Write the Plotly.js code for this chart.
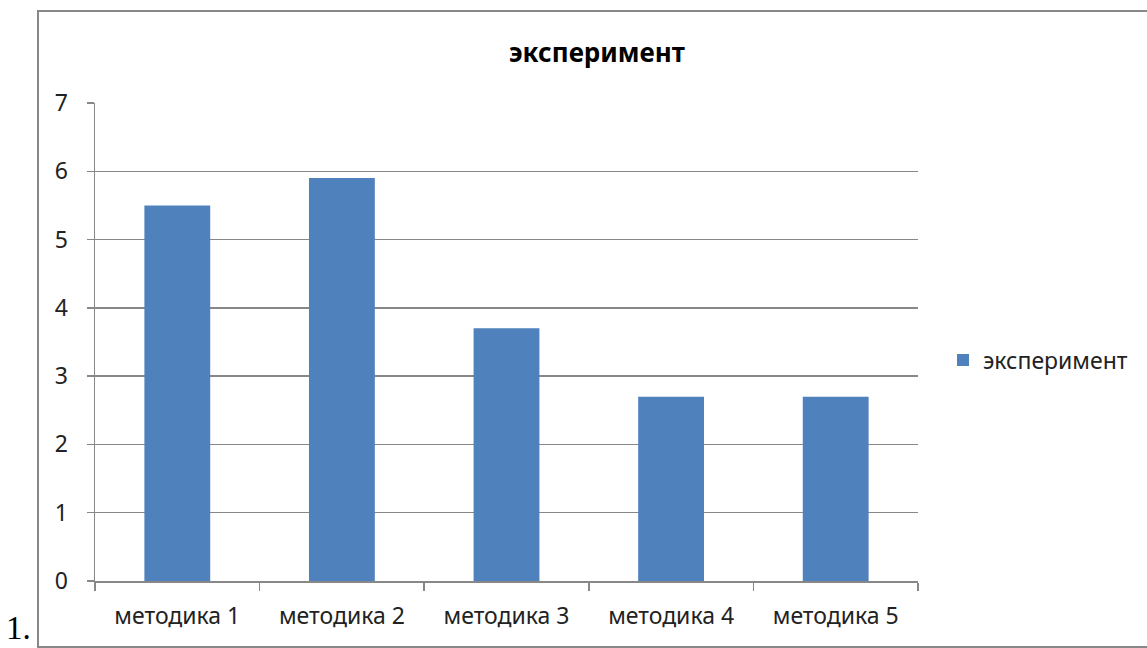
<!DOCTYPE html>
<html>
<head>
<meta charset="utf-8">
<script src="https://cdn.plot.ly/plotly-3.0.1.min.js"></script>
<style>html,body{margin:0;padding:0;background:#fff;}#chart{width:1147px;height:648px;}</style>
</head>
<body>
<div id="chart"></div>
<script>
const categories = ["методика 1", "методика 2", "методика 3", "методика 4", "методика 5"];
const values = [5.5, 5.9, 3.7, 2.7, 2.7];
const seriesName = "эксперимент";
const chartTitle = "эксперимент";
const yTicks = [0, 1, 2, 3, 4, 5, 6, 7];
const cornerLabel = "1.";

const font = "Noto Sans, Liberation Sans, sans-serif";
const trace = {
  type: "bar",
  x: categories,
  y: values,
  name: seriesName,
  marker: {color: "#4F81BD"},
  showlegend: true
};
const L = 95, R = 918, T = 103, B = 581;
const W = 1147, H = 648;
const px = v => (v - L) / (R - L);
const py = v => (B - v) / (B - T);
const layout = {
  width: W, height: H,
  margin: {l: L, r: W - R, t: T, b: H - B, pad: 0},
  paper_bgcolor: "#fff", plot_bgcolor: "#fff",
  bargap: 0.6,
  title: {text: "<b>" + chartTitle + "</b>", x: 597 / W, xref: "container", xanchor: "center",
          y: 1 - 53 / H, yref: "container", yanchor: "middle",
          font: {family: font, size: 26, color: "#000"}},
  xaxis: {
    type: "category", showgrid: false, showline: true, linecolor: "#888", linewidth: 1.5,
    ticks: "outside", tickson: "boundaries", ticklen: 8, tickcolor: "#888", tickwidth: 1.5,
    tickfont: {family: font, size: 23, color: "#222"}, ticklabelstandoff: 14,
    zeroline: false
  },
  yaxis: {
    range: [0, 7], tickvals: yTicks, showgrid: true, gridcolor: "#888", gridwidth: 1.5,
    showline: true, linecolor: "#888", linewidth: 1.5,
    ticks: "outside", ticklen: 7, tickcolor: "#888", tickwidth: 1.5,
    tickfont: {family: font, size: 23, color: "#222"}, ticklabelstandoff: 14,
    zeroline: false
  },
  legend: {x: px(943), xanchor: "left", y: py(360), yanchor: "middle",
           font: {family: font, size: 23, color: "#222"}, bgcolor: "rgba(0,0,0,0)"},
  shapes: [{type: "rect", xref: "paper", yref: "paper",
            x0: px(38), x1: px(1250), y0: py(647), y1: py(11),
            line: {color: "#888", width: 2}, fillcolor: "rgba(0,0,0,0)", layer: "below"}],
  annotations: [{text: cornerLabel, xref: "paper", yref: "paper", x: px(4), xanchor: "left",
                 y: py(648), yanchor: "bottom", showarrow: false,
                 font: {family: "Liberation Serif, serif", size: 33, color: "#000"}}]
};
Plotly.newPlot("chart", [trace], layout, {displayModeBar: false, staticPlot: true});
</script>
</body>
</html>
